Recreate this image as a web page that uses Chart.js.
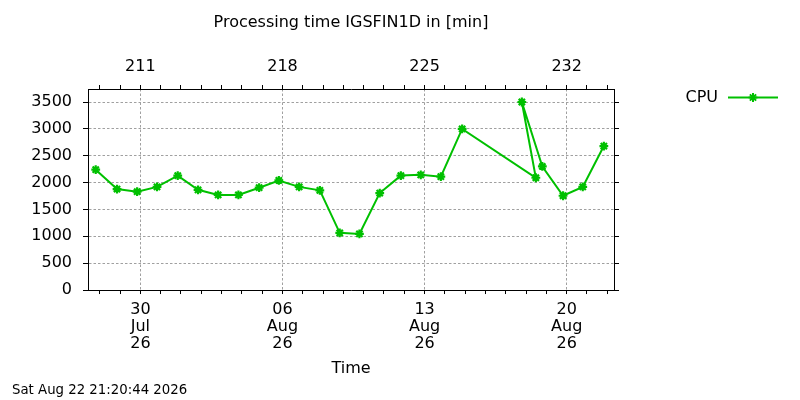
<!DOCTYPE html>
<html>
<head>
<meta charset="utf-8">
<script src="https://cdn.jsdelivr.net/npm/chart.js@4/dist/chart.umd.min.js"></script>
<style>
  html, body { margin: 0; padding: 0; background: #ffffff; }
  #wrap { width: 800px; height: 400px; position: relative; }
</style>
</head>
<body>
<div id="wrap"><canvas id="c" width="800" height="400"></canvas></div>
<script>
// ---- data (x = day of year 2026, fractional) ----
const seriesLabel = "CPU";
const dayOfYear = [
  208.80, 209.85, 210.84, 211.82, 212.84, 213.84, 214.83, 215.83, 216.85, 217.82,
  218.82, 219.84, 220.82, 221.79, 222.79, 223.83, 224.81, 225.80, 226.85,
  230.48, 229.79, 230.80, 231.82, 232.79, 233.83
];
const cpuMinutes = [
  2240, 1880, 1830, 1920, 2130, 1865, 1770, 1770, 1905, 2040,
  1920, 1855, 1065, 1045, 1805, 2130, 2145, 2110, 3000,
  2090, 3500, 2300, 1755, 1920, 2680
];
const yTickValues = [0, 500, 1000, 1500, 2000, 2500, 3000, 3500];
const bottomTickDays = [211, 218, 225, 232];
const bottomTickLabels = [["30", "Jul", "26"], ["06", "Aug", "26"], ["13", "Aug", "26"], ["20", "Aug", "26"]];
const topTickLabels = ["211", "218", "225", "232"];
const titleText = "Processing time IGSFIN1D in [min]";
const xTitle = "Time";
const footerText = "Sat Aug 22 21:20:44 2026";

const X_MIN = 208.42, X_MAX = 234.33;
const Y_MIN = 0, Y_MAX = 3742;
const GREEN = "#00c000";
const GRID = "#a0a0a0";
const FONT = "DejaVu Sans";

Chart.defaults.font.family = FONT;
Chart.defaults.font.size = 16;
Chart.defaults.color = "#000";

const points = dayOfYear.map((d, i) => ({ x: d, y: cpuMinutes[i] }));
const setYTicks = (s) => { s.ticks = yTickValues.map(v => ({ value: v })); };

function drawStar(ctx, x, y, r) {
  const d = r * Math.SQRT1_2;
  ctx.beginPath();
  ctx.moveTo(x - r, y); ctx.lineTo(x + r, y);
  ctx.moveTo(x, y - r); ctx.lineTo(x, y + r);
  ctx.moveTo(x - d, y - d); ctx.lineTo(x + d, y + d);
  ctx.moveTo(x - d, y + d); ctx.lineTo(x + d, y - d);
  ctx.stroke();
}

const legendPlugin = {
  id: "gpLegend",
  afterDraw(chart) {
    const ctx = chart.ctx;
    const a = chart.chartArea;
    const ly = a.top + 8.5;
    ctx.save();
    ctx.font = "16px '" + FONT + "'";
    ctx.fillStyle = "#000";
    ctx.textAlign = "right";
    ctx.textBaseline = "middle";
    ctx.fillText(seriesLabel, a.right + 104, ly);
    ctx.strokeStyle = GREEN;
    ctx.lineWidth = 2;
    ctx.beginPath();
    ctx.moveTo(a.right + 114, ly);
    ctx.lineTo(a.right + 164, ly);
    ctx.stroke();
    drawStar(ctx, a.right + 139, ly, 4.4);
    ctx.restore();
  }
};

new Chart(document.getElementById("c"), {
  type: "scatter",
  data: {
    datasets: [{
      label: seriesLabel,
      data: points,
      showLine: true,
      borderColor: GREEN,
      backgroundColor: GREEN,
      borderWidth: 2,
      pointStyle: "star",
      pointRadius: 4.4,
      pointHoverRadius: 4.4,
      pointBorderWidth: 2.2,
      pointBorderColor: GREEN,
      pointBackgroundColor: GREEN,
      tension: 0
    }]
  },
  options: {
    responsive: false,
    animation: false,
    devicePixelRatio: 1,
    layout: { padding: { left: 12, right: 0, top: 0, bottom: 0 } },
    plugins: {
      legend: { display: false },
      tooltip: { enabled: false },
      title: {
        display: true,
        text: titleText,
        fullSize: false,
        color: "#000",
        font: { size: 16, weight: "normal", lineHeight: 1.2 },
        padding: { top: 13.4, bottom: 0 }
      },
      subtitle: {
        display: true,
        text: footerText,
        position: "bottom",
        align: "start",
        color: "#000",
        font: { size: 13.3, weight: "normal", lineHeight: 1.2 },
        padding: { top: 0, bottom: 1.5 }
      }
    },
    scales: {
      x: {
        type: "linear",
        position: "bottom",
        min: X_MIN, max: X_MAX,
        afterFit: (s) => { s.height = 92.5; },
        ticks: {
          stepSize: 1,
          includeBounds: false,
          autoSkip: false,
          maxRotation: 0, minRotation: 0,
          padding: 7.6,
          font: { size: 16, lineHeight: 1.044 },
          color: "#000",
          callback: (v) => { const i = bottomTickDays.indexOf(v); return i >= 0 ? bottomTickLabels[i] : ""; }
        },
        grid: {
          color: (c) => (c.tick && bottomTickDays.includes(c.tick.value)) ? GRID : "rgba(0,0,0,0)",
          lineWidth: 1,
          tickColor: "#000",
          tickLength: 4
        },
        border: { display: true, color: "#000", width: 1, dash: [2.5, 2] },
        title: {
          display: true,
          text: xTitle,
          color: "#000",
          font: { size: 16, lineHeight: 1.2 },
          padding: { top: 0, bottom: 3.8 }
        }
      },
      x2: {
        type: "linear",
        position: "top",
        min: X_MIN, max: X_MAX,
        afterFit: (s) => { s.height = 56.4; },
        ticks: {
          stepSize: 1,
          includeBounds: false,
          autoSkip: false,
          maxRotation: 0, minRotation: 0,
          padding: 8.2,
          font: { size: 16, lineHeight: 1.2 },
          color: "#000",
          callback: (v) => { const i = bottomTickDays.indexOf(v); return i >= 0 ? topTickLabels[i] : ""; }
        },
        grid: { drawOnChartArea: false, tickColor: "#000", tickLength: 4 },
        border: { display: true, color: "#000", width: 1 }
      },
      y: {
        type: "linear",
        position: "left",
        min: Y_MIN, max: Y_MAX,
        afterFit: (s) => { s.width = 76; },
        afterBuildTicks: setYTicks,
        ticks: {
          padding: 11,
          font: { size: 16 },
          color: "#000",
          callback: (v) => String(v)
        },
        grid: {
          color: (c) => (c.tick && c.tick.value !== 0) ? GRID : "rgba(0,0,0,0)",
          lineWidth: 1,
          tickColor: "#000",
          tickLength: 5
        },
        border: { display: true, color: "#000", width: 1, dash: [2.5, 2] }
      },
      y2: {
        type: "linear",
        position: "right",
        min: Y_MIN, max: Y_MAX,
        afterFit: (s) => { s.width = 186; },
        afterBuildTicks: setYTicks,
        ticks: { display: false },
        grid: { drawOnChartArea: false, tickColor: "#000", tickLength: 5 },
        border: { display: true, color: "#000", width: 1 }
      }
    }
  },
  plugins: [legendPlugin]
});
</script>
</body>
</html>
